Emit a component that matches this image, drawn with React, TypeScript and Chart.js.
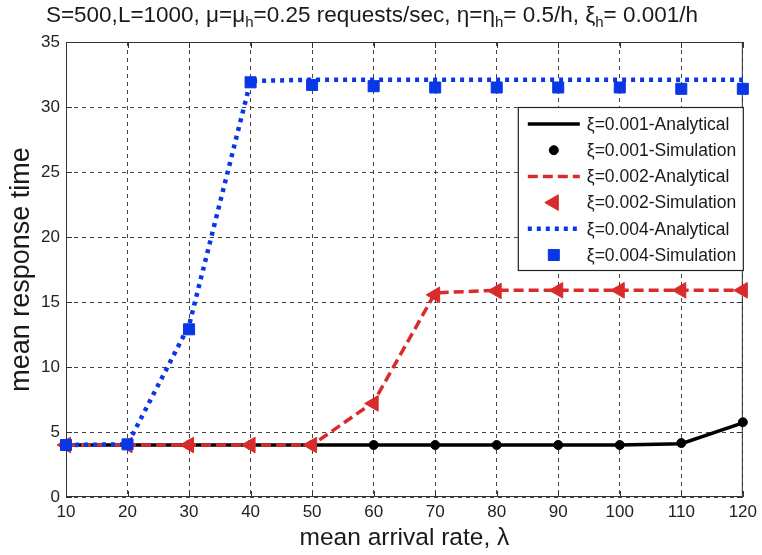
import React, { useEffect, useRef } from 'react';
import { Chart, registerables } from 'chart.js';

Chart.register(...registerables);

// ---- data ----
const lambdaValues = [10, 20, 30, 40, 50, 60, 70, 80, 90, 100, 110, 120];
const analytical001 = [4.0, 4.0, 4.0, 4.0, 4.0, 4.0, 4.0, 4.0, 4.0, 4.0, 4.1, 5.7];
const simulation001 = [4.0, 4.0, 4.0, 4.0, 4.0, 4.0, 4.0, 4.0, 4.0, 4.0, 4.15, 5.75];
const analytical002 = [4.0, 4.0, 4.0, 4.0, 4.0, 7.3, 15.7, 15.9, 15.9, 15.9, 15.9, 15.9];
const simulation002 = [4.0, 4.0, 4.0, 4.0, 4.0, 7.2, 15.55, 15.85, 15.9, 15.9, 15.9, 15.9];
const analytical004 = [4.0, 4.05, 13.2, 32.0, 32.1, 32.1, 32.1, 32.1, 32.1, 32.1, 32.1, 32.1];
const simulation004 = [4.0, 4.05, 12.9, 31.9, 31.7, 31.6, 31.5, 31.5, 31.5, 31.5, 31.4, 31.4];

const xTickValues = [10, 20, 30, 40, 50, 60, 70, 80, 90, 100, 110, 120];
const yTickValues = [0, 5, 10, 15, 20, 25, 30, 35];

const legendLabels = [
  'ξ=0.001-Analytical',
  'ξ=0.001-Simulation',
  'ξ=0.002-Analytical',
  'ξ=0.002-Simulation',
  'ξ=0.004-Analytical',
  'ξ=0.004-Simulation',
];

const titleParts = [
  { text: 'S=500,L=1000, μ=μ', sub: false },
  { text: 'h', sub: true },
  { text: '=0.25 requests/sec, η=η', sub: false },
  { text: 'h', sub: true },
  { text: '= 0.5/h, ξ', sub: false },
  { text: 'h', sub: true },
  { text: '= 0.001/h', sub: false },
];

const xTitle = 'mean arrival rate, λ';
const yTitle = 'mean response time';

const FONT = '"Liberation Sans", Arial, Helvetica, sans-serif';
const BLACK = '#000000';
const RED = '#d92b2b';
const BLUE = '#0a37e6';
const TEXT = '#1a1a1a';

const toPoints = (ys: number[]) => lambdaValues.map((x, i) => ({ x, y: ys[i] }));

const framePlugin = {
  id: 'frame',
  beforeDatasetsDraw(chart: any) {
    const { ctx, chartArea, scales } = chart;
    const { left, right, top, bottom } = chartArea;
    ctx.save();
    ctx.setLineDash([]);
    ctx.strokeStyle = '#333333';
    ctx.lineWidth = 1;
    ctx.strokeRect(left + 0.5, top + 0.5, right - left - 1, bottom - top - 1);
    const tl = 6;
    ctx.beginPath();
    xTickValues.forEach((v) => {
      const px = Math.round(scales.x.getPixelForValue(v)) + 0.5;
      ctx.moveTo(px, bottom);
      ctx.lineTo(px, bottom - tl);
      ctx.moveTo(px, top);
      ctx.lineTo(px, top + tl);
    });
    yTickValues.forEach((v) => {
      const py = Math.round(scales.y.getPixelForValue(v)) + 0.5;
      ctx.moveTo(left, py);
      ctx.lineTo(left + tl, py);
      ctx.moveTo(right, py);
      ctx.lineTo(right - tl, py);
    });
    ctx.stroke();
    ctx.restore();
  },
};

const titlePlugin = {
  id: 'subTitle',
  afterDraw(chart: any) {
    const { ctx } = chart;
    const size = 22.5;
    const subSize = 15;
    ctx.save();
    ctx.fillStyle = TEXT;
    ctx.textBaseline = 'alphabetic';
    ctx.textAlign = 'left';
    let total = 0;
    titleParts.forEach((p) => {
      ctx.font = `${p.sub ? subSize : size}px ${FONT}`;
      total += ctx.measureText(p.text).width;
    });
    let x = 372 - total / 2;
    const base = 22;
    titleParts.forEach((p) => {
      ctx.font = `${p.sub ? subSize : size}px ${FONT}`;
      ctx.fillText(p.text, x, p.sub ? base + 5 : base);
      x += ctx.measureText(p.text).width;
    });
    ctx.restore();
  },
};

const drawMarker = (ctx: any, kind: string, x: number, y: number, fill: string, stroke: string) => {
  ctx.save();
  ctx.setLineDash([]);
  ctx.fillStyle = fill;
  ctx.strokeStyle = stroke;
  ctx.lineWidth = 1;
  ctx.beginPath();
  if (kind === 'circle') {
    ctx.arc(x, y, 4.5, 0, Math.PI * 2);
  } else if (kind === 'triangle') {
    const r = 9;
    ctx.moveTo(x - r, y);
    ctx.lineTo(x + r * 0.5, y - r * 0.866);
    ctx.lineTo(x + r * 0.5, y + r * 0.866);
    ctx.closePath();
  } else {
    const h = 5.5;
    ctx.rect(x - h, y - h, 2 * h, 2 * h);
  }
  ctx.fill();
  ctx.stroke();
  ctx.restore();
};

const legendPlugin = {
  id: 'boxLegend',
  afterDraw(chart: any) {
    const { ctx, chartArea } = chart;
    const bw = 226;
    const bh = 164;
    const bx = chartArea.right + 1 - bw;
    const by = chartArea.top + 65;
    ctx.save();
    ctx.fillStyle = '#ffffff';
    ctx.fillRect(bx, by, bw, bh);
    ctx.strokeStyle = '#222222';
    ctx.lineWidth = 1.2;
    ctx.setLineDash([]);
    ctx.strokeRect(bx + 0.5, by + 0.5, bw - 1, bh - 1);
    const entries = [
      { type: 'line', color: BLACK, width: 3.5, dash: [] as number[] },
      { type: 'circle', color: BLACK },
      { type: 'line', color: RED, width: 3.5, dash: [10, 5] },
      { type: 'triangle', color: RED },
      { type: 'line', color: BLUE, width: 4.5, dash: [4, 5] },
      { type: 'rect', color: BLUE },
    ];
    ctx.font = `17.5px ${FONT}`;
    ctx.textBaseline = 'middle';
    ctx.textAlign = 'left';
    entries.forEach((e: any, i) => {
      const cy = by + 17 + i * 26.2;
      if (e.type === 'line') {
        ctx.save();
        ctx.strokeStyle = e.color;
        ctx.lineWidth = e.width;
        ctx.setLineDash(e.dash);
        ctx.lineCap = 'butt';
        ctx.beginPath();
        ctx.moveTo(bx + 10, cy);
        ctx.lineTo(bx + 62, cy);
        ctx.stroke();
        ctx.restore();
      } else {
        drawMarker(ctx, e.type, bx + 36, cy, e.color, e.color);
      }
      ctx.fillStyle = TEXT;
      ctx.fillText(legendLabels[i], bx + 69, cy + 1);
    });
    ctx.restore();
  },
};

export default function App() {
  const canvasRef = useRef<HTMLCanvasElement | null>(null);

  useEffect(() => {
    if (!canvasRef.current) return;
    const chart = new Chart(canvasRef.current, {
      type: 'scatter',
      data: {
        datasets: [
          {
            label: legendLabels[0],
            data: toPoints(analytical001),
            showLine: true,
            borderColor: BLACK,
            borderWidth: 3.5,
            pointRadius: 0,
            pointHoverRadius: 0,
            order: 6,
            clip: false,
          },
          {
            label: legendLabels[1],
            data: toPoints(simulation001),
            showLine: false,
            pointStyle: 'circle',
            pointRadius: 4.5,
            pointBackgroundColor: BLACK,
            pointBorderColor: BLACK,
            pointBorderWidth: 1,
            order: 5,
            clip: false,
          },
          {
            label: legendLabels[2],
            data: toPoints(analytical002),
            showLine: true,
            borderColor: RED,
            borderWidth: 3.5,
            borderDash: [10, 5],
            pointRadius: 0,
            pointHoverRadius: 0,
            order: 4,
            clip: false,
          },
          {
            label: legendLabels[3],
            data: toPoints(simulation002),
            showLine: false,
            pointStyle: 'triangle',
            pointRotation: -90,
            pointRadius: 9,
            pointBackgroundColor: RED,
            pointBorderColor: RED,
            pointBorderWidth: 1,
            order: 3,
            clip: false,
          },
          {
            label: legendLabels[4],
            data: toPoints(analytical004),
            showLine: true,
            borderColor: BLUE,
            borderWidth: 4.5,
            borderDash: [4, 5],
            pointRadius: 0,
            pointHoverRadius: 0,
            order: 2,
            clip: false,
          },
          {
            label: legendLabels[5],
            data: toPoints(simulation004),
            showLine: false,
            pointStyle: 'rect',
            pointRadius: 7.8,
            pointBackgroundColor: BLUE,
            pointBorderColor: BLUE,
            pointBorderWidth: 1,
            order: 1,
            clip: false,
          },
        ] as any,
      },
      options: {
        responsive: false,
        animation: false,
        devicePixelRatio: 1,
        layout: { padding: { top: 42, right: 14, left: 0, bottom: 0 } },
        plugins: {
          legend: { display: false },
          title: { display: false },
          tooltip: { enabled: false },
        },
        scales: {
          x: {
            type: 'linear',
            min: 10,
            max: 120,
            afterBuildTicks: (s: any) => {
              s.ticks = xTickValues.map((v) => ({ value: v }));
            },
            afterFit: (s: any) => {
              s.height = 58;
            },
            ticks: {
              padding: 5,
              color: '#222222',
              font: { family: FONT, size: 17 },
            },
            grid: {
              color: '#444444',
              lineWidth: 1,
              drawTicks: false,
            },
            border: { display: false, dash: [4, 4] },
            title: {
              display: true,
              text: xTitle,
              color: TEXT,
              font: { family: FONT, size: 24.5 },
              padding: { top: 0, bottom: 2 },
            },
          },
          y: {
            type: 'linear',
            min: 0,
            max: 35,
            afterBuildTicks: (s: any) => {
              s.ticks = yTickValues.map((v) => ({ value: v }));
            },
            afterFit: (s: any) => {
              s.width = 66;
            },
            ticks: {
              padding: 6,
              color: '#222222',
              font: { family: FONT, size: 17 },
            },
            grid: {
              color: '#444444',
              lineWidth: 1,
              drawTicks: false,
            },
            border: { display: false, dash: [4, 4] },
            title: {
              display: true,
              text: yTitle,
              color: TEXT,
              font: { family: FONT, size: 27 },
              padding: { top: 5, bottom: 0 },
            },
          },
        },
      } as any,
      plugins: [framePlugin, titlePlugin, legendPlugin],
    });
    return () => chart.destroy();
  }, []);

  return (
    <div style={{ position: 'fixed', left: 0, top: 0, width: 762, height: 555, background: '#ffffff' }}>
      <canvas ref={canvasRef} width={762} height={555} style={{ width: 762, height: 555, display: 'block' }} />
    </div>
  );
}
